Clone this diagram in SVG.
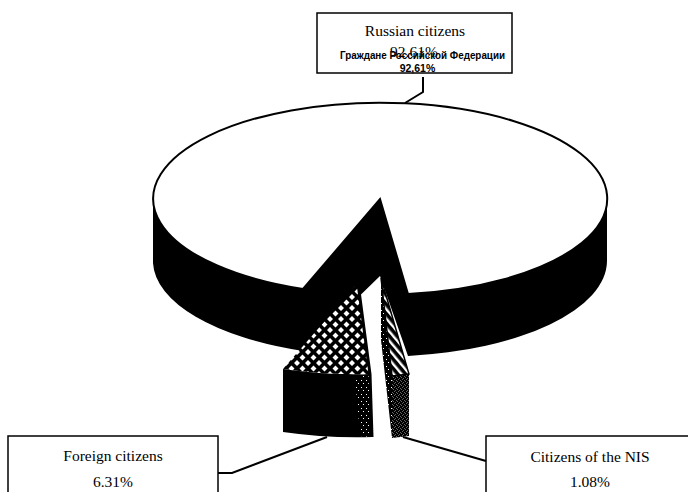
<svg xmlns="http://www.w3.org/2000/svg" width="688" height="492" viewBox="0 0 688 492">
<style>
.serif{font-family:"Liberation Serif","Times New Roman",serif;font-size:15.5px;fill:#000;text-anchor:middle}
.sans{font-family:"Liberation Sans",Arial,sans-serif;font-size:10.5px;font-weight:bold;fill:#000}
.box{fill:#fff;stroke:#000;stroke-width:1.5}
.dark{fill:#000}
.conn{fill:none;stroke:#000;stroke-width:2;stroke-linejoin:miter}
</style>
<defs>
<pattern id="chk" width="11" height="11" patternUnits="userSpaceOnUse">
<rect width="11" height="11" fill="#000"/>
<path d="M5.5,2.5 L8.5,5.5 L5.5,8.5 L2.5,5.5Z M0,0 L3,0 L0,3Z M11,0 L11,3 L8,0Z M0,11 L0,8 L3,11Z M11,11 L8,11 L11,8Z" fill="#fff"/>
</pattern>
<pattern id="hatch" width="6" height="6" patternUnits="userSpaceOnUse" patternTransform="rotate(-40)">
<rect width="6" height="6" fill="#000"/>
<rect x="0" y="0" width="2.4" height="6" fill="#fff"/>
</pattern>
<pattern id="cross" width="4" height="4" patternUnits="userSpaceOnUse">
<rect width="4" height="4" fill="#000"/>
<path d="M0.5,0.5 L1.5,1.5 M3.5,2.5 L2.5,3.5" stroke="#fff" stroke-width="0.8"/>
</pattern>
<pattern id="speck" width="5" height="7" patternUnits="userSpaceOnUse">
<rect width="5" height="7" fill="#000"/>
<rect x="1" y="2" width="1" height="1" fill="#fff"/>
<rect x="3" y="5" width="1" height="1" fill="#fff"/>
</pattern>
</defs>

<g id="slice-russian">
<path class="dark" d="M380,199 L303,289 L303,351 L380,276 L408,356 L408,294 Z"/>
<path class="dark" d="M153,199 A227,96 0 0 0 303,289 L303,351 A227,96 0 0 1 153,263 Z"/>
<path class="dark" d="M408,294 A227,96 0 0 0 607,199 L607,261 A227,96 0 0 1 408,356 Z"/>
<path d="M380,199 L408,294 A227,96 0 1 0 303,289 Z" fill="#fff" stroke="#000" stroke-width="2"/>
</g>

<g id="slice-foreign">
<path class="dark" d="M283,369 A227,96 0 0 0 370,374 L372,437 A227,96 0 0 1 283,432 Z"/>
<path d="M355,378 L370,374 L372,437 L360,436 Z" fill="url(#speck)"/>
<path d="M358,283 L283,369 A227,96 0 0 0 370,374 Z" fill="url(#chk)"/>
<path d="M358,283 L370,374 L372,437" fill="none" stroke="#000" stroke-width="3"/>
</g>

<g id="slice-nis">
<path d="M381,278 L392,376 L392,438 L381,340 Z" fill="url(#speck)"/>
<path d="M392,376 A227,96 0 0 0 409,374 L409,436 A227,96 0 0 1 392,438 Z" fill="url(#cross)"/>
<path d="M381,278 L409,374 A227,96 0 0 1 392,376 Z" fill="url(#hatch)" stroke="#000" stroke-width="1.5"/>
</g>

<g id="connectors">
<polyline class="conn" points="423,77 423,92 405,103"/>
<polyline class="conn" points="218,473 232,473 327,437"/>
<polyline class="conn" points="403,437 486,461"/>
</g>

<g id="label-russian">
<rect class="box" x="317" y="13" width="195" height="60"/>
<text class="serif" x="415" y="36">Russian citizens</text>
<text class="serif" x="414" y="57">92.61%</text>
<text class="sans" x="340" y="59" textLength="165" lengthAdjust="spacingAndGlyphs">Граждане Российской Федерации</text>
<text class="sans" x="417.5" y="72" text-anchor="middle">92,61%</text>
</g>

<g id="label-foreign">
<rect class="box" x="8" y="436" width="210" height="70"/>
<text class="serif" x="113" y="461">Foreign citizens</text>
<text class="serif" x="113" y="487">6.31%</text>
</g>

<g id="label-nis">
<rect class="box" x="486" y="436" width="210" height="70"/>
<text class="serif" x="590" y="462">Citizens of the NIS</text>
<text class="serif" x="590" y="487">1.08%</text>
</g>
</svg>
